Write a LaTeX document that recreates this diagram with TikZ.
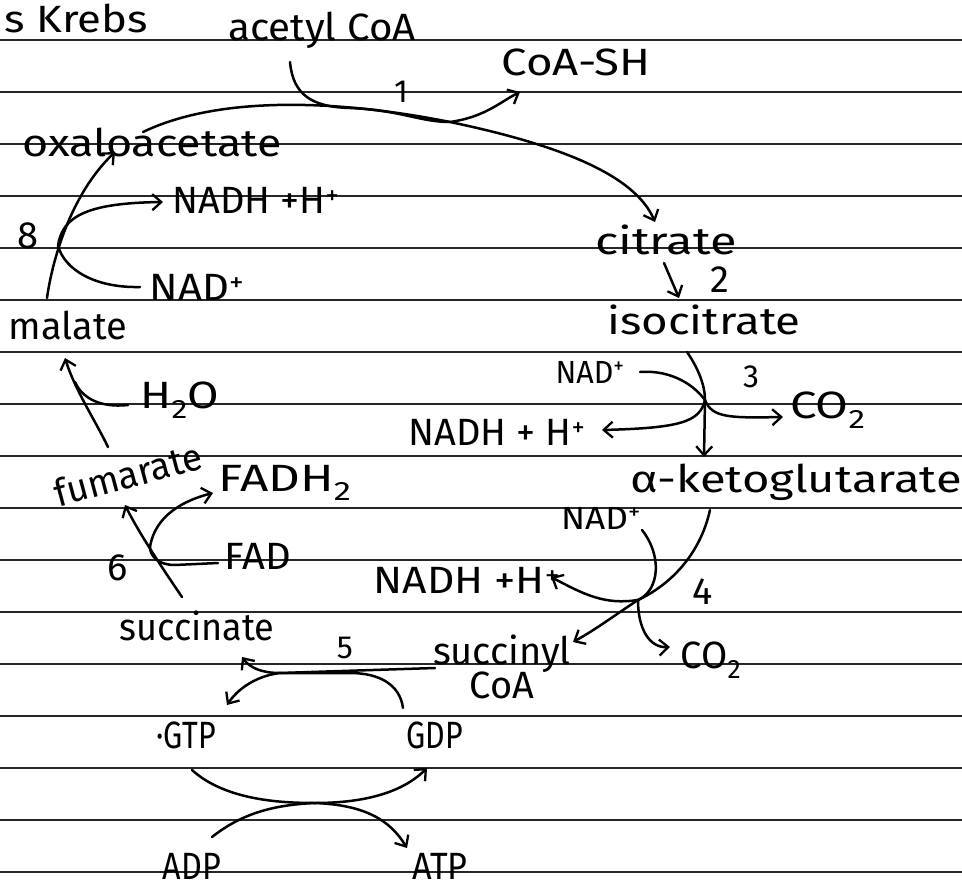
\documentclass[tikz,border=0pt]{standalone}
\usepackage{graphicx}
\usepackage{fontspec}
\setmainfont{Fira Sans}
\usetikzlibrary{arrows.meta}
\newcommand\hsq[2]{\scalebox{#1}[1]{#2}}
\begin{document}
\begin{tikzpicture}[x=1pt,y=-1pt,
  lbl/.style={inner sep=0pt, font=\fontsize{38}{40}\selectfont},
  sml/.style={inner sep=0pt, font=\fontsize{32}{34}\selectfont},
  rxn/.style={line width=2.5pt, line cap=round, line join=round},
  arr/.style={rxn, -{Straight Barb[length=9pt,width=16pt,line width=2.3pt]}},
  rule/.style={line width=1.7pt, black!85}]
\useasboundingbox (0,0) rectangle (962,885);
\fill[white] (0,0) rectangle (962,885);
% ruled lines
\foreach \k in {0,...,16}{
  \draw[rule] (0,{40+52*\k}) -- (962,{40+52*\k});
}
% labels
\node[lbl, anchor=east] (title) at (148,18) {\hsq{1.15}{s Krebs}};
\node[lbl] (acetyl) at (322,30) {\hsq{1.06}{acetyl CoA}};
\node[lbl] (coash) at (576,62) {\hsq{1.2}{CoA-SH}};
\node[sml] (n1) at (401,92) {1};
\node[lbl] (oxa) at (152,142) {\hsq{1.18}{oxaloacetate}};
\node[lbl] (nadh8) at (256,200) {\hsq{1.0}{NADH +H\textsuperscript{+}}};
\node[lbl] (n8) at (28,236) {8};
\node[lbl] (nad8) at (197,287) {\hsq{1.1}{NAD\textsuperscript{+}}};
\node[lbl] (cit) at (666,240) {\hsq{1.28}{citrate}};
\node[lbl] (n2) at (720,280) {2};
\node[lbl] (iso) at (704,320) {\hsq{1.2}{isocitrate}};
\node[sml] (nad3) at (590,372) {\hsq{0.95}{NAD\textsuperscript{+}}};
\node[sml] (n3) at (751,377) {3};
\node[lbl] (co23) at (828,410) {\hsq{1.25}{CO\textsubscript{2}}};
\node[lbl] (nadh3) at (497,432) {\hsq{1.0}{NADH + H\textsuperscript{+}}};
\node[lbl] (akg) at (796,482) {\hsq{1.24}{α-ketoglutarate}};
\node[sml] (nad4) at (601,518) {\hsq{1.1}{NAD\textsuperscript{+}}};
\node[lbl] (nadh4) at (467,580) {\hsq{1.12}{NADH +H\textsuperscript{+}}};
\node[lbl] (n4) at (703,592) {4};
\node[lbl] (co24) at (711,660) {CO\textsubscript{2}};
\node[lbl, align=center] (succoa) at (502,667) {succinyl\\[-6pt]CoA};
\node[sml] (n5) at (345,648) {5};
\node[lbl] (succ) at (197,626) {\hsq{0.95}{succinate}};
\node[lbl] (gtp) at (186,735) {\hsq{0.8}{·GTP}};
\node[lbl] (gdp) at (435,735) {\hsq{0.8}{GDP}};
\node[lbl] (adp) at (192,866) {\hsq{0.85}{ADP}};
\node[lbl] (atp) at (440,866) {\hsq{0.9}{ATP}};
\node[lbl] (n6) at (118,568) {6};
\node[lbl] (fad) at (258,556) {\hsq{1.05}{FAD}};
\node[lbl] (fadh) at (285,483) {\hsq{1.3}{FADH\textsubscript{2}}};
\node[lbl, rotate=15] (fum) at (128,474) {\hsq{0.97}{fumarate}};
\node[lbl] (h2o) at (180,400) {\hsq{1.2}{H\textsubscript{2}O}};
\node[lbl] (mal) at (68,325) {\hsq{1.0}{malate}};
% junctions and free ends
\coordinate (s1) at (143,132);
\coordinate (m1) at (450,122);
\coordinate (e1) at (655,222);
\coordinate (a1) at (290,62);
\coordinate (e1b) at (520,92);
\coordinate (s2) at (664,263);
\coordinate (e2) at (679,298);
\coordinate (s3) at (687,352);
\coordinate (j3) at (705,400);
\coordinate (e3) at (704,457);
\coordinate (n3s) at (640,372);
\coordinate (e3a) at (602,430);
\coordinate (e3b) at (783,417);
\coordinate (s4) at (710,510);
\coordinate (j4) at (638,600);
\coordinate (e4) at (573,642);
\coordinate (n4s) at (642,530);
\coordinate (e4a) at (551,577);
\coordinate (e4b) at (670,647);
\coordinate (s5) at (435,668);
\coordinate (j5) at (280,673);
\coordinate (e5) at (242,657);
\coordinate (g5) at (403,708);
\coordinate (e5a) at (227,705);
\coordinate (gb) at (192,770);
\coordinate (jb) at (315,803);
\coordinate (eb) at (427,768);
\coordinate (ab) at (212,837);
\coordinate (ebt) at (407,848);
\coordinate (s6) at (182,597);
\coordinate (j6) at (150,547);
\coordinate (e6) at (125,505);
\coordinate (f6) at (218,563);
\coordinate (e6a) at (213,493);
\coordinate (s7) at (108,447);
\coordinate (e7) at (65,358);
\coordinate (h7) at (128,405);
\coordinate (j7) at (75,382);
\coordinate (s8) at (47,298);
\coordinate (j8) at (58,246);
\coordinate (e8) at (115,152);
\coordinate (n8s) at (140,287);
\coordinate (e8a) at (163,202);
% step 1
\draw[arr] (s1) .. controls (220,95) and (340,100) .. (m1)
  .. controls (560,145) and (635,175) .. (e1);
\draw[arr] (a1) .. controls (293,95) and (312,107) .. (350,108)
  .. controls (400,110) and (420,122) .. (m1)
  .. controls (485,117) and (500,102) .. (e1b);
% step 2
\draw[arr] (s2) -- (e2);
% step 3
\draw[arr] (s3) .. controls (698,368) and (705,385) .. (j3) -- (e3);
\draw[rxn] (n3s) .. controls (665,370) and (690,380) .. (j3);
\draw[arr] (j3) .. controls (700,422) and (680,428) .. (e3a);
\draw[arr] (j3) .. controls (712,418) and (730,418) .. (e3b);
% step 4
\draw[arr] (s4) .. controls (700,555) and (670,585) .. (j4)
  .. controls (615,615) and (595,630) .. (e4);
\draw[rxn] (n4s) .. controls (662,555) and (660,590) .. (j4);
\draw[arr] (j4) .. controls (605,605) and (585,595) .. (e4a);
\draw[arr] (j4) .. controls (638,630) and (650,648) .. (e4b);
% step 5
\draw[arr] (s5) -- (j5) .. controls (262,673) and (250,668) .. (e5);
\draw[rxn] (g5) .. controls (400,685) and (380,673) .. (350,673) -- (j5);
\draw[arr] (j5) .. controls (255,676) and (237,690) .. (e5a);
\draw[arr] (gb) .. controls (225,800) and (280,803) .. (jb)
  .. controls (370,803) and (405,790) .. (eb);
\draw[rxn] (ab) .. controls (240,815) and (270,805) .. (jb);
\draw[arr] (jb) .. controls (365,805) and (390,820) .. (ebt);
% step 6
\draw[arr] (s6) .. controls (165,572) and (140,535) .. (e6);
\draw[rxn] (f6) -- (175,565) .. controls (158,565) and (150,556) .. (j6);
\draw[arr] (j6) .. controls (155,515) and (185,500) .. (e6a);
% step 7
\draw[arr] (s7) .. controls (95,420) and (75,390) .. (e7);
\draw[rxn] (h7) .. controls (100,408) and (82,398) .. (j7);
% step 8
\draw[arr] (s8) .. controls (52,262) and (70,195) .. (e8);
\draw[rxn] (n8s) .. controls (95,288) and (65,270) .. (j8);
\draw[arr] (j8) .. controls (62,215) and (90,203) .. (e8a);
\end{tikzpicture}
\end{document}
